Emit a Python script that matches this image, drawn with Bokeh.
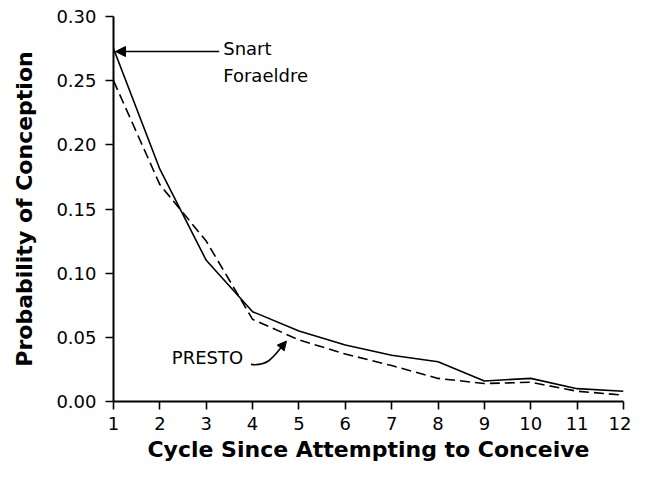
from bokeh.plotting import figure
from bokeh.models import (FixedTicker, NumeralTickFormatter, Range1d, Label, Arrow,
                          NormalHead, ColumnDataSource)
from bokeh.embed import file_html
from bokeh.resources import INLINE

cycles = [1, 2, 3, 4, 5, 6, 7, 8, 9, 10, 11, 12]
snart_foraeldre = [0.275, 0.181, 0.110, 0.070, 0.055, 0.044, 0.036, 0.031, 0.016, 0.018, 0.010, 0.008]
presto = [0.250, 0.169, 0.125, 0.064, 0.048, 0.037, 0.028, 0.018, 0.014, 0.015, 0.008, 0.005]
y_ticks = [0.0, 0.05, 0.10, 0.15, 0.20, 0.25, 0.30]

FONT = "DejaVu Sans"

p = figure(width=631, height=469, output_backend="svg", toolbar_location=None,
           x_range=Range1d(1, 12), y_range=Range1d(0, 0.30),
           min_border_left=113, min_border_right=8, min_border_top=16, min_border_bottom=68)
p.outline_line_color = None
p.xgrid.visible = False
p.ygrid.visible = False
p.background_fill_color = "white"

src = ColumnDataSource(dict(x=cycles, s=snart_foraeldre, pr=presto))
p.line("x", "s", source=src, line_color="black", line_width=1.6)
p.line("x", "pr", source=src, line_color="black", line_width=1.6, line_dash="10 5")

for ax in (p.xaxis[0], p.yaxis[0]):
    ax.axis_line_width = 2
    ax.axis_line_color = "black"
    ax.major_tick_line_width = 1.6
    ax.major_tick_line_color = "black"
    ax.major_tick_out = 8
    ax.major_tick_in = 0
    ax.minor_tick_line_color = None
    ax.major_label_text_font = FONT
    ax.major_label_text_font_size = "18px"
    ax.major_label_text_color = "black"
    ax.axis_label_text_font = FONT
    ax.axis_label_text_font_style = "bold"
    ax.axis_label_text_font_size = "22px"
    ax.axis_label_text_color = "black"

p.xaxis.ticker = FixedTicker(ticks=cycles)
p.xaxis.major_label_standoff = 7
p.xaxis.axis_label = "Cycle Since Attempting to Conceive"
p.xaxis.axis_label_standoff = 4

p.yaxis.ticker = FixedTicker(ticks=y_ticks)
p.yaxis.formatter = NumeralTickFormatter(format="0.00")
p.yaxis.major_label_standoff = 9
p.yaxis.axis_label = "Probability of Conception"
p.yaxis.axis_label_standoff = 16

# annotations
p.add_layout(Label(x=3.367, y=0.2749, text="Snart", text_font=FONT, text_font_size="18px",
                   text_color="black", text_baseline="alphabetic"))
p.add_layout(Label(x=3.367, y=0.2537, text="Foraeldre", text_font=FONT, text_font_size="18px",
                   text_color="black", text_baseline="alphabetic"))
p.add_layout(Arrow(end=NormalHead(size=10, fill_color="black", line_color="black"),
                   x_start=3.28, y_start=0.2727, x_end=1.043, y_end=0.2727,
                   line_color="black", line_width=1.5))

p.add_layout(Label(x=2.258, y=0.0342, text="PRESTO", text_font=FONT, text_font_size="18px",
                   text_color="black", text_baseline="alphabetic"))
p.bezier(x0=[3.964], y0=[0.0289], x1=[4.625], y1=[0.0425],
         cx0=[4.326], cy0=[0.0273], cx1=[4.454], cy1=[0.0349],
         line_color="black", line_width=1.6)
p.add_layout(Arrow(end=NormalHead(size=9, fill_color="black", line_color="black"),
                   x_start=4.625, y_start=0.0425, x_end=4.731, y_end=0.0471,
                   line_color="black", line_width=1.6))

open("out.html", "w").write(file_html(p, INLINE))
